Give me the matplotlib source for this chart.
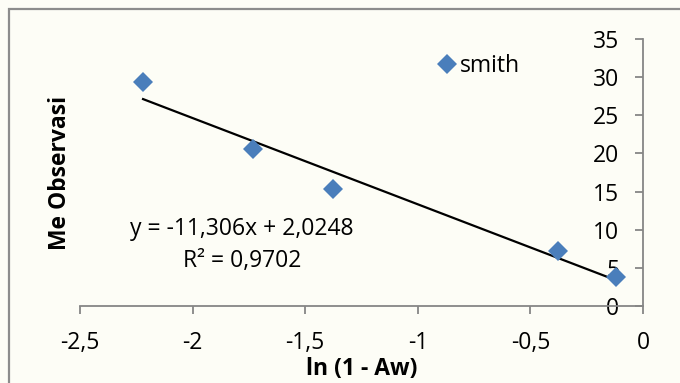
import matplotlib.pyplot as plt
import numpy as np
from matplotlib.patches import Rectangle

plt.rcParams['font.family'] = ['Open Sans', 'DejaVu Sans']

# ln(1 - Aw) vs Me observasi (smith)
ln_aw = [-2.22, -1.731, -1.376, -0.376, -0.118]
me_obs = [29.4, 20.6, 15.3, 7.2, 3.8]

slope = -11.306
intercept = 2.0248
r2 = 0.9702

x_ticks = [-2.5, -2, -1.5, -1, -0.5, 0]
y_ticks = [0, 5, 10, 15, 20, 25, 30, 35]

bg = '#fdfdf6'
axis_col = '#868686'
blue = '#4a7ebb'
fs = 16.5

fig = plt.figure(figsize=(6.8, 3.83), dpi=100, facecolor=bg)
ax = fig.add_axes([80 / 680, 1 - 306 / 383, 563 / 680, 267 / 383])
ax.set_facecolor(bg)

ax.plot(ln_aw, me_obs, linestyle='none', marker='D', markersize=10,
        color=blue, markeredgewidth=0, label='smith', zorder=3)

xs = np.array([min(ln_aw), max(ln_aw)])
ax.plot(xs, slope * xs + intercept, color='black', linewidth=1.6, zorder=2)

ax.set_xlim(-2.5, 0)
ax.set_ylim(0, 35)

ax.spines['top'].set_visible(False)
ax.spines['right'].set_visible(False)
ax.spines['left'].set_position(('data', 0))
for s in ('left', 'bottom'):
    ax.spines[s].set_color(axis_col)
    ax.spines[s].set_linewidth(1.3)

ax.set_xticks(x_ticks)
ax.set_xticklabels([('%g' % t).replace('.', ',') for t in x_ticks])
ax.set_yticks(y_ticks)
ax.tick_params(axis='both', colors=axis_col, labelcolor='black',
               labelsize=fs, length=5.5, width=1.3, direction='out')
ax.tick_params(axis='x', pad=12.5)
ax.tick_params(axis='y', pad=11.5)

ax.set_xlabel('ln (1 - Aw)', fontsize=fs, fontweight='bold', labelpad=0)
ax.xaxis.set_label_coords(0.5, -(369 - 306) / 267)
ax.set_ylabel('Me Observasi', fontsize=fs, fontweight='bold')
ax.yaxis.set_label_coords(-20 / 563, 0.5)
ax.xaxis.label.set_va('center')
ax.yaxis.label.set_va('center')

eq = 'y = %sx + %s' % (('%g' % slope).replace('.', ','),
                       ('%g' % intercept).replace('.', ','))
ax.text(-1.78, 10.1, eq, fontsize=fs, ha='center', va='center')
ax.text(-1.78, 5.9, 'R² = ' + ('%g' % r2).replace('.', ','),
        fontsize=fs, ha='center', va='center')

ax.legend(loc='center left', bbox_to_anchor=(0.628, 0.828),
          bbox_transform=fig.transFigure, frameon=False, fontsize=fs,
          handlelength=0.7, handletextpad=0.25, borderpad=0)

# chart area border
fig.patches.append(Rectangle((9 / 680, -0.1), 1.2, 1.1 - 9 / 383,
                             transform=fig.transFigure, fill=False,
                             edgecolor='#8c8c8c', linewidth=1.6))

fig.savefig('out.png', dpi=100, facecolor=bg)
